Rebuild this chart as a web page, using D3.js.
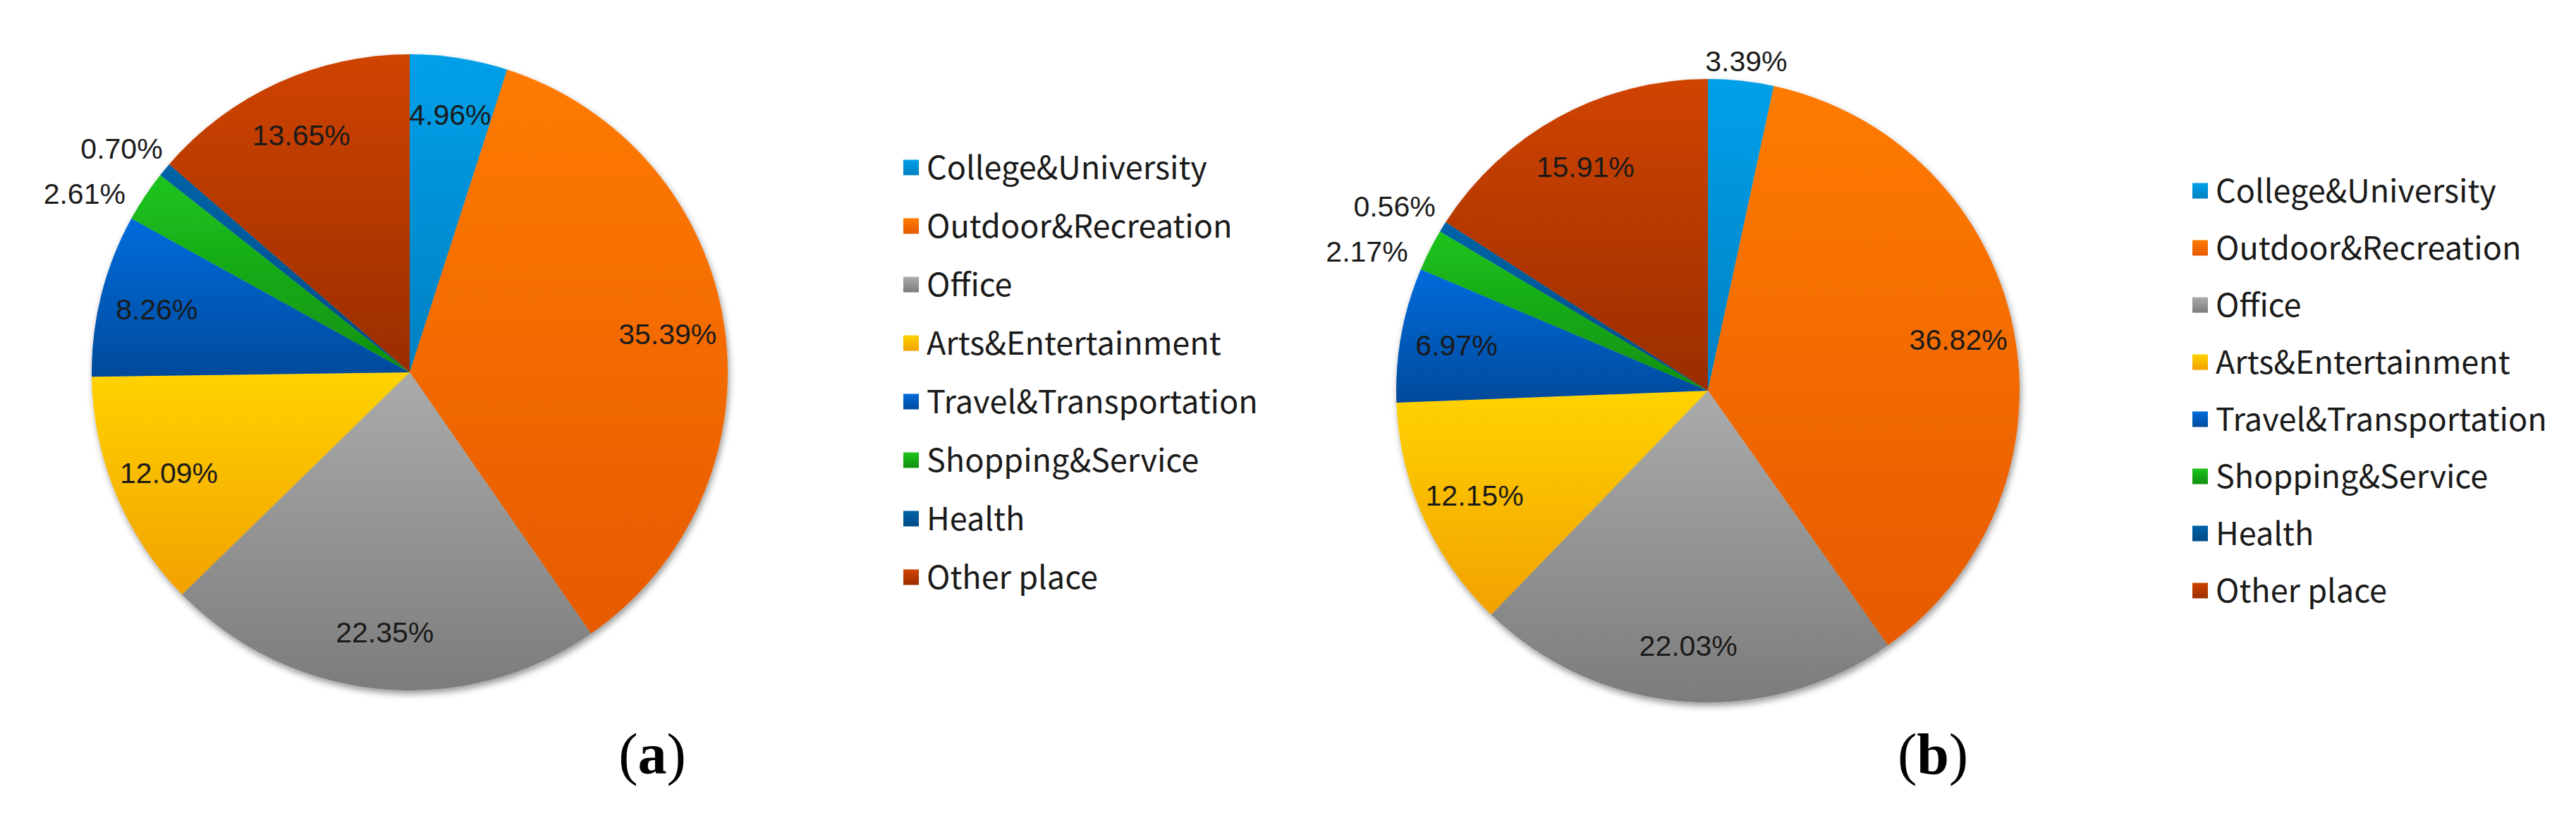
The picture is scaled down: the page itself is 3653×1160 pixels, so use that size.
<!DOCTYPE html>
<html>
<head>
<meta charset="utf-8">
<script src="https://cdn.jsdelivr.net/npm/d3@7"></script>
<style>
  body { margin: 0; background: #fff; }
  svg { display: block; }
</style>
</head>
<body>
<svg id="chart" width="3653" height="1160"></svg>
<script>
// categories, in slice order (clockwise from 12 o'clock)
var categories = ["College&University", "Outdoor&Recreation", "Office", "Arts&Entertainment",
                  "Travel&Transportation", "Shopping&Service", "Health", "Other place"];

// percentage values for panel (a) and (b)
var valuesA = [4.96, 35.39, 22.35, 12.09, 8.26, 2.61, 0.70, 13.65];
var valuesB = [3.39, 36.82, 22.03, 12.15, 6.97, 2.17, 0.56, 15.91];
var panelNames = ["a", "b"];

// gradient colours, top and bottom
var colorTop    = ["#00a0e9", "#ff7b00", "#ababab", "#ffd300", "#006cdc", "#1ec41e", "#0064a8", "#d04400"];
var colorBottom = ["#0080c2", "#e65a00", "#7c7c7c", "#f2a100", "#004a9b", "#0f8f0f", "#004b86", "#9a2d00"];

var svg = d3.select("#chart");
var defs = svg.append("defs");

categories.forEach(function(c, i) {
  var g = defs.append("linearGradient")
      .attr("id", "grad" + i)
      .attr("x1", 0).attr("y1", 0).attr("x2", 0).attr("y2", 1);
  g.append("stop").attr("offset", "0%").attr("stop-color", colorTop[i]);
  g.append("stop").attr("offset", "100%").attr("stop-color", colorBottom[i]);
});

defs.append("filter")
    .attr("id", "shadow")
    .attr("x", "-10%").attr("y", "-10%").attr("width", "120%").attr("height", "120%")
  .append("feDropShadow")
    .attr("dx", 2).attr("dy", 5)
    .attr("stdDeviation", 5)
    .attr("flood-color", "#000")
    .attr("flood-opacity", 0.4);

// layout of the two panels
var panels = [
  {values: valuesA, cx: 581,  cy: 528, r: 451, legendX: 1281, legendGap: 83, nameX: 925},
  {values: valuesB, cx: 2422, cy: 554, r: 442, legendX: 3109, legendGap: 81, nameX: 2741}
];

var pie = d3.pie().sort(null).value(function(d) { return d; });
var fmt = function(v) { return v.toFixed(2) + "%"; };

function drawPanel(p, k) {
  var arcs = pie(p.values);
  var arc = d3.arc().innerRadius(0).outerRadius(p.r);
  var labelArc = d3.arc().innerRadius(p.r * 0.82).outerRadius(p.r * 0.82);

  var g = svg.append("g")
      .attr("transform", "translate(" + p.cx + "," + p.cy + ")");

  g.append("g")
      .attr("filter", "url(#shadow)")
    .selectAll("path")
      .data(arcs)
      .enter().append("path")
      .attr("d", arc)
      .attr("fill", function(d, i) { return "url(#grad" + i + ")"; });

  var labels = g.selectAll(".lbl")
      .data(arcs)
      .enter().append("text")
      .attr("class", "lbl")
      .attr("font-family", "Liberation Sans, Arial, sans-serif")
      .attr("font-size", 41)
      .attr("fill", "#1a1a1a")
      .attr("text-anchor", "middle")
      .attr("dy", "0.36em")
      .text(function(d) { return fmt(d.data); });

  // big slices: label inside
  labels.filter(function(d) { return d.data >= 3.5; })
      .attr("x", function(d) { return labelArc.centroid(d)[0]; })
      .attr("y", function(d) { return labelArc.centroid(d)[1]; });

  // small slices: label outside, pushed apart so they dont collide
  var outs = [];
  labels.filter(function(d) { return d.data < 3.5; })
      .each(function(d) {
        var a = (d.startAngle + d.endAngle) / 2;
        var hw = this.getComputedTextLength() / 2;
        var y = -Math.cos(a) * (p.r + 12 + 16);
        outs.push({node: this, a: a, hw: hw, y: y});
      });

  outs.sort(function(m, n) { return m.y - n.y; });
  var minSep = 64;
  for (var it = 0; it < 20; it++) {
    for (var j = 1; j < outs.length; j++) {
      var gap = outs[j].y - outs[j - 1].y;
      if (Math.abs(Math.sin(outs[j].a)) > 0.5 && Math.abs(Math.sin(outs[j - 1].a)) > 0.5 && gap < minSep) {
        var push = (minSep - gap) / 2;
        outs[j].y += push;
        outs[j - 1].y -= push;
      }
    }
  }

  outs.forEach(function(o) {
    var x;
    var s = Math.sin(o.a);
    if (Math.abs(s) > 0.5) {
      // keep the text box 30px off the rim at its height
      var edge = Math.sqrt(Math.max(0, p.r * p.r - o.y * o.y));
      x = (s < 0 ? -1 : 1) * (edge + 30 + o.hw);
    } else {
      x = s * (p.r + 12 + o.hw);
    }
    d3.select(o.node).attr("x", x).attr("y", o.y);
  });

  // legend
  var n = categories.length;
  var y0 = p.cy - (n - 1) / 2 * p.legendGap;
  var leg = svg.append("g")
      .attr("transform", "translate(" + p.legendX + "," + y0 + ")");

  var item = leg.selectAll(".item")
      .data(categories)
      .enter().append("g")
      .attr("class", "item")
      .attr("transform", function(d, i) { return "translate(0," + (i * p.legendGap) + ")"; });

  item.append("rect")
      .attr("x", 0).attr("y", -11)
      .attr("width", 22).attr("height", 22)
      .attr("fill", function(d, i) { return "url(#grad" + i + ")"; });

  item.append("text")
      .attr("x", 33)
      .attr("y", 16)
      .attr("font-family", "Noto Sans CJK SC, Noto Sans, sans-serif")
      .attr("font-size", 45)
      .attr("fill", "#1a1a1a")
      .text(function(d) { return d; });

  // panel name (a) / (b)
  var nm = svg.append("text")
      .attr("x", p.nameX)
      .attr("y", 1097)
      .attr("text-anchor", "middle")
      .attr("font-family", "Liberation Serif, Times New Roman, serif")
      .attr("font-size", 82)
      .attr("fill", "#000");
  nm.append("tspan").text("(");
  nm.append("tspan").attr("font-weight", "bold").text(panelNames[k]);
  nm.append("tspan").text(")");
}

panels.forEach(drawPanel);
</script>
</body>
</html>
